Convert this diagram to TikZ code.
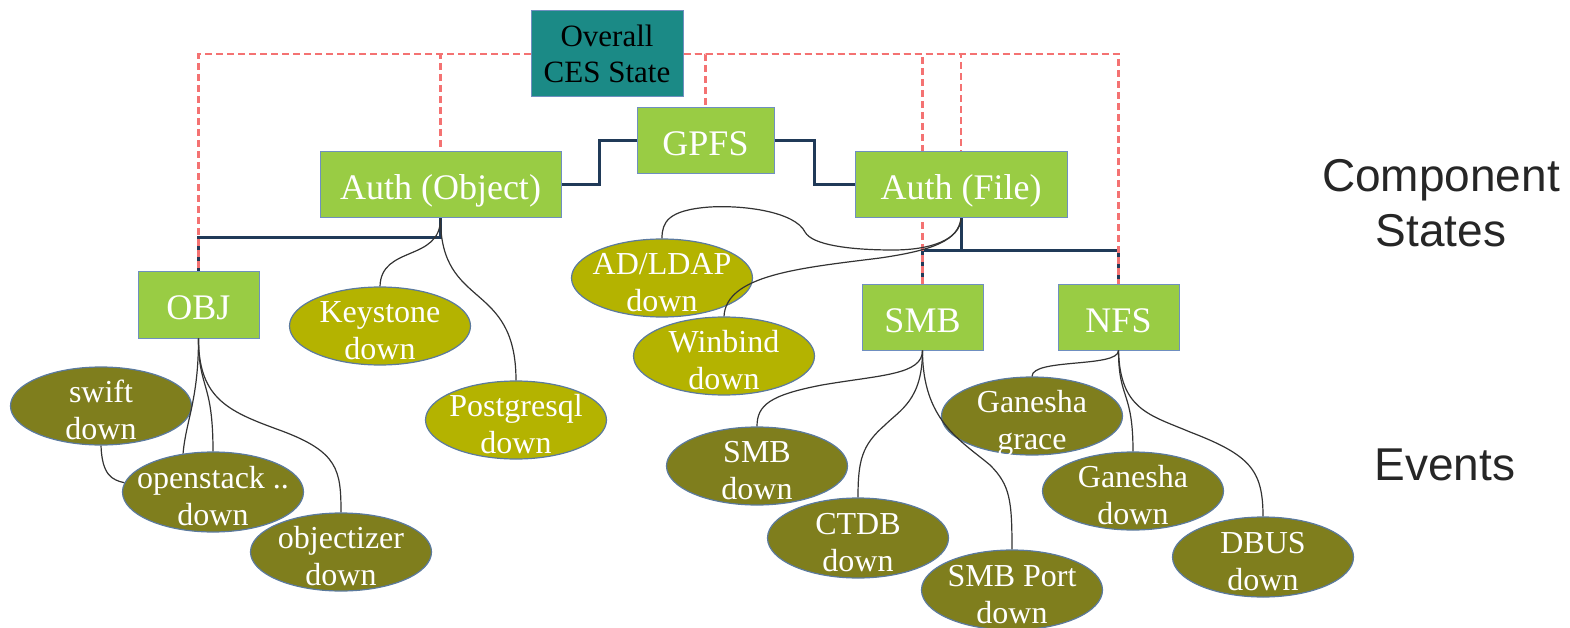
\documentclass[tikz,border=0pt]{standalone}
\usepackage{fontspec}
\setmainfont{Liberation Serif}
\newfontfamily\labfont{Liberation Sans}
\usetikzlibrary{shapes.geometric,calc}
\pgfdeclarelayer{bg}
\pgfsetlayers{bg,main}
\definecolor{boxgreen}{HTML}{99CC44}
\definecolor{boxedge}{HTML}{6F8FC0}
\definecolor{tealbox}{HTML}{1B8A86}
\definecolor{olivelt}{HTML}{B4B300}
\definecolor{olivedk}{HTML}{7F7E1D}
\definecolor{elledge}{HTML}{5B7A9E}
\definecolor{navyline}{HTML}{203A58}
\definecolor{redline}{HTML}{F47272}
\definecolor{thinline}{HTML}{333333}
\newcommand\evtext[1]{\makebox[0pt]{\smash{\raisebox{\dimexpr-0.25em-6pt\relax}{\begin{tabular}{@{}c@{}}#1\end{tabular}}}}}
\tikzset{
  compbox/.style={rectangle, fill=boxgreen, draw=boxedge, line width=1pt, inner sep=0pt,
    text height=30pt, text depth=0pt,
    text=white, font=\fontsize{36}{43}\selectfont},
  topbox/.style={rectangle, fill=tealbox, draw=boxedge, line width=1pt, inner sep=0pt,
    text=black, align=center, font=\fontsize{31}{36}\selectfont},
  evbase/.style={ellipse, draw=elledge, line width=1.2pt, inner sep=0pt,
    minimum width=181pt, minimum height=78pt, text=white, font=\fontsize{32}{37}\selectfont},
  evlt/.style={evbase, fill=olivelt},
  evdk/.style={evbase, fill=olivedk},
  navylink/.style={draw=navyline, line width=3pt},
  redlink/.style={draw=redline, line width=2.5pt, dash pattern=on 7pt off 4pt},
  thinlink/.style={draw=thinline, line width=1.2pt},
  rlabel/.style={text=black!85, align=center, font=\labfont\fontsize{46}{55}\selectfont}
}
\begin{document}
\begin{tikzpicture}[x=1pt,y=-1pt]
\useasboundingbox (0,0) rectangle (1570,628);

% component boxes
\node[topbox, minimum width=152pt, minimum height=86pt] (overall) at (607,54) {Overall\\CES State};
\node[compbox, minimum width=137pt, minimum height=66pt] (gpfs) at (705.5,141) {GPFS};
\node[compbox, minimum width=241pt, minimum height=66pt] (authobj) at (440.5,185) {Auth (Object)};
\node[compbox, minimum width=212pt, minimum height=66pt] (authfile) at (961,185) {Auth (File)};
\node[compbox, minimum width=121pt, minimum height=67pt] (obj) at (198.5,304.5) {OBJ};
\node[compbox, minimum width=121pt, minimum height=66pt] (smb) at (922.5,317) {SMB};
\node[compbox, minimum width=121pt, minimum height=66pt] (nfs) at (1118.5,317) {NFS};

% events
\node[evlt] (keystone) at (380,326) {\evtext{Keystone\\down}};
\node[evlt] (postgres) at (516,420) {\evtext{Postgresql\\down}};
\node[evlt] (adldap) at (662,278) {\evtext{AD/LDAP\\down}};
\node[evlt] (winbind) at (724,356) {\evtext{Winbind\\down}};
\node[evdk] (swift) at (101,406) {\evtext{swift\\down}};
\node[evdk, minimum height=80pt] (openstack) at (213,492) {\evtext{openstack ..\\down}};
\node[evdk] (objectizer) at (341,552) {\evtext{objectizer\\down}};
\node[evdk] (smbdown) at (757,466) {\evtext{SMB\\down}};
\node[evdk, minimum height=80pt] (ctdb) at (858,538) {\evtext{CTDB\\down}};
\node[evdk, minimum height=80pt] (smbport) at (1012,590) {\evtext{SMB Port\\down}};
\node[evdk] (ggrace) at (1032,416) {\evtext{Ganesha\\grace}};
\node[evdk] (gdown) at (1133,491) {\evtext{Ganesha\\down}};
\node[evdk, minimum height=80pt] (dbus) at (1263,557) {\evtext{DBUS\\down}};

% side labels
\node[rlabel] (complabel) at (1441,203) {Component\\States};
\node[rlabel] (evlabel) at (1445,465) {Events};

\coordinate (jo) at (440.5,238);
\coordinate (jf) at (961,251);

\begin{pgfonlayer}{bg}
% navy structure
\draw[navylink] (authobj.east) -| ($(authobj.east)!0.5!(gpfs.west)$) |- (gpfs.west);
\draw[navylink] (gpfs.east) -| ($(gpfs.east)!0.5!(authfile.west)$) |- (authfile.west);
\draw[navylink] (authobj.south) -- (jo) -| (obj.north);
\draw[navylink] (authfile.south) -- (jf) -| (smb.north);
\draw[navylink] (jf) -| (nfs.north);
% red dashed
\draw[redlink] (overall.west) -| (obj.north);
\draw[redlink] (overall.west) -| (authobj.north);
\draw[redlink] (overall.east) -| (gpfs.north);
\draw[redlink] (overall.east) -| (smb.north);
\draw[redlink] (overall.east) -| (authfile.north);
\draw[redlink] (overall.east) -| (nfs.north);
\end{pgfonlayer}

% thin curves (on top)
\draw[thinlink] (authobj.south) .. controls (440.5,262) and (381,245) .. (keystone.north);
\draw[thinlink] (authobj.south) .. controls (440.5,310) and (516,280) .. (postgres.north);
\draw[thinlink] (obj.south) .. controls (198.5,400) and (186,420) .. (openstack.128);
\draw[thinlink] (obj.south) .. controls (198.5,390) and (213,380) .. (openstack.north);
\draw[thinlink] (obj.south) .. controls (198.5,400) and (230,412) .. (282,431) .. controls (338,452) and (341,470) .. (objectizer.north);
\draw[thinlink] (swift.south) .. controls (102,475) and (112,480) .. (openstack.174);
\draw[thinlink] (authfile.south) .. controls (960,240) and (930,250) .. (893,250)
  .. controls (850,250) and (812,245) .. (805,232)
  .. controls (795,212) and (745,205) .. (710,207)
  .. controls (668,210) and (662,222) .. (adldap.north);
\draw[thinlink] (authfile.south) .. controls (958,240) and (935,250) .. (880,258)
  .. controls (800,268) and (726,275) .. (winbind.north);
\draw[thinlink] (smb.south) .. controls (922.5,375) and (880,375) .. (822,385)
  .. controls (770,395) and (757,405) .. (smbdown.north);
\draw[thinlink] (smb.south) .. controls (922.5,400) and (900,410) .. (885,425)
  .. controls (862,445) and (858,460) .. (ctdb.north);
\draw[thinlink] (smb.south) .. controls (922.5,420) and (960,440) .. (990,465)
  .. controls (1010,485) and (1012,500) .. (smbport.north);
\draw[thinlink] (nfs.south) .. controls (1118.5,368) and (1032,358) .. (ggrace.north);
\draw[thinlink] (nfs.south) .. controls (1118.5,400) and (1133,390) .. (gdown.north);
\draw[thinlink] (nfs.south) .. controls (1120,410) and (1150,415) .. (1190,432)
  .. controls (1250,455) and (1263,470) .. (dbus.north);
\end{tikzpicture}
\end{document}
